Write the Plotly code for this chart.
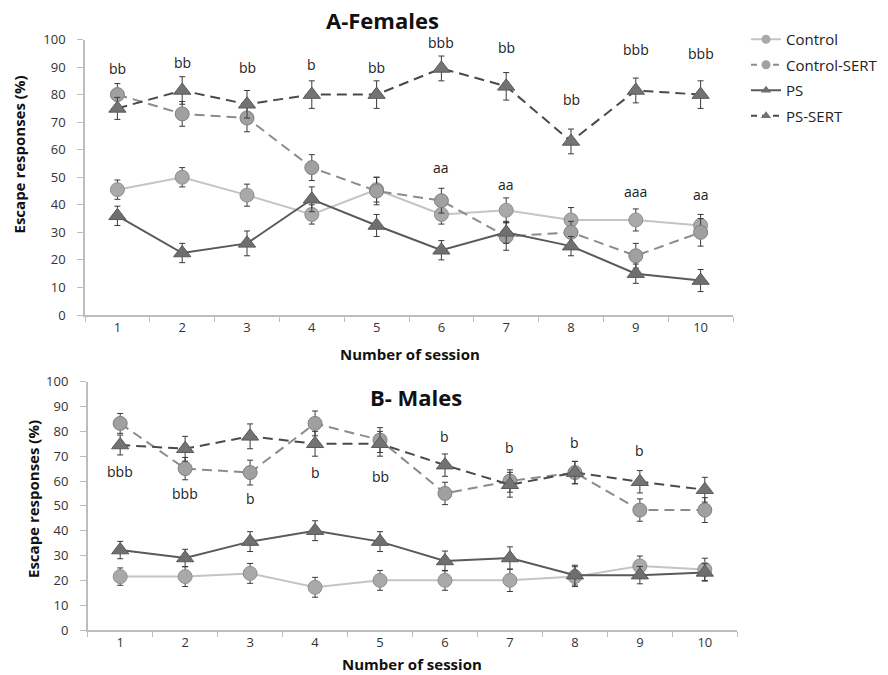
import plotly.graph_objects as go

sessions = ["1", "2", "3", "4", "5", "6", "7", "8", "9", "10"]

# A - Females
f_control = [45.5, 50, 43.5, 36.5, 45.5, 36.5, 38, 34.5, 34.5, 32.5]
f_control_err = [3.5, 3.5, 4, 3.5, 4.5, 3.5, 4.5, 4.5, 4, 4]
f_control_sert = [80, 73, 71.5, 53.5, 45, 41.5, 28.5, 30, 21.5, 30]
f_control_sert_err = [4, 4.5, 5, 4.7, 5, 4.5, 5, 4, 4.5, 5]
f_ps = [36, 22.5, 26, 42, 32.5, 23.5, 30, 25, 15, 12.5]
f_ps_err = [3.5, 3.5, 4.5, 4.5, 4, 3.5, 4, 3.5, 3.5, 4]
f_ps_sert = [75, 81.5, 76.5, 80, 80, 89.5, 83, 63, 81.5, 80]
f_ps_sert_err = [4, 5, 5, 5, 5, 4.5, 5, 4.5, 4.5, 5]

# B - Males
m_control = [21.5, 21.5, 22.8, 17.2, 20, 20, 20, 21.5, 25.8, 24.4]
m_control_err = [3.5, 4, 4, 4, 4, 4, 4.5, 4, 4, 4.5]
m_control_sert = [83.2, 65, 63.4, 83.2, 76.5, 55, 60, 63.4, 48.3, 48.3]
m_control_sert_err = [4, 4.5, 5, 5, 5, 4.5, 4.5, 4.5, 4.5, 5]
m_ps = [32.2, 29, 35.6, 40, 35.6, 27.8, 29, 22.1, 22.1, 23.2]
m_ps_err = [3.5, 3.5, 4, 4, 4, 4, 4.5, 4, 3.5, 3.5]
m_ps_sert = [74.5, 73, 78, 75, 75, 66.4, 58.5, 63.4, 59.7, 56.5]
m_ps_sert_err = [4, 5, 5, 5, 5, 4.5, 5, 4.5, 4.5, 5]

# significance labels (text, session, y)
f_b_labels = ["bb", "bb", "bb", "b", "bb", "bbb", "bb", "bb", "bbb", "bbb"]
f_b_y = [89.3, 91.8, 89.7, 91, 89.7, 99, 97, 78.4, 96.5, 95]
f_a_sessions = ["6", "7", "9", "10"]
f_a_labels = ["aa", "aa", "aaa", "aa"]
f_a_y = [53.7, 47.2, 45, 43.6]
m_b_labels = ["bbb", "bbb", "b", "b", "bb", "b", "b", "b", "b"]
m_b_sessions = ["1", "2", "3", "4", "5", "6", "7", "8", "9"]
m_b_y = [63.8, 55, 52.8, 63.5, 61.7, 78.1, 73.6, 75.6, 72.2]

FONT = "Open Sans, DejaVu Sans, sans-serif"

styles = {
    "Control": dict(line=dict(color="#c4c4c4", width=2),
                    marker=dict(symbol="circle", size=14, color="#a9a9a9", line=dict(color="#8f8f8f", width=1))),
    "Control-SERT": dict(line=dict(color="#8c8c8c", width=2, dash="10px,6px"),
                         marker=dict(symbol="circle", size=14, color="#a0a0a0", line=dict(color="#7f7f7f", width=1))),
    "PS": dict(line=dict(color="#5a5a5a", width=2),
               marker=dict(symbol="triangle-up", size=15, color="#6f6f6f", line=dict(color="#5a5a5a", width=1))),
    "PS-SERT": dict(line=dict(color="#4a4a4a", width=2, dash="10px,6px"),
                    marker=dict(symbol="triangle-up", size=15, color="#737373", line=dict(color="#5a5a5a", width=1))),
}
legend_dash = {"Control": "solid", "Control-SERT": "6px,5px", "PS": "solid", "PS-SERT": "6px,5px"}

fig = go.Figure()

def add_panel(series, xaxis, yaxis):
    for name, vals, errs in series:
        st = styles[name]
        fig.add_trace(go.Scatter(
            x=sessions, y=vals, name=name, mode="lines+markers",
            line=st["line"], marker=st["marker"],
            error_y=dict(type="data", array=errs, visible=True, color="#3a3a3a", thickness=1, width=3),
            xaxis=xaxis, yaxis=yaxis, showlegend=False, legendgroup=name,
        ))

add_panel([("Control", f_control, f_control_err),
           ("Control-SERT", f_control_sert, f_control_sert_err),
           ("PS", f_ps, f_ps_err),
           ("PS-SERT", f_ps_sert, f_ps_sert_err)], "x", "y")
add_panel([("Control", m_control, m_control_err),
           ("Control-SERT", m_control_sert, m_control_sert_err),
           ("PS", m_ps, m_ps_err),
           ("PS-SERT", m_ps_sert, m_ps_sert_err)], "x2", "y2")

# legend-only entries with smaller symbols
for name in ["Control", "Control-SERT", "PS", "PS-SERT"]:
    st = styles[name]
    fig.add_trace(go.Scatter(
        x=[None], y=[None], name=name, mode="lines+markers",
        line=dict(color=st["line"]["color"], width=2, dash=legend_dash[name]),
        marker=dict(symbol=st["marker"]["symbol"], size=9, color=st["marker"]["color"]),
        xaxis="x", yaxis="y", showlegend=True, legendgroup=name,
    ))

LBL = dict(family=FONT, size=14, color="#222222")
annotations = []
for s, t, yv in zip(sessions, f_b_labels, f_b_y):
    annotations.append(dict(x=sessions.index(s), y=yv, xref="x", yref="y", text=t, showarrow=False, font=LBL))
for s, t, yv in zip(f_a_sessions, f_a_labels, f_a_y):
    annotations.append(dict(x=sessions.index(s), y=yv, xref="x", yref="y", text=t, showarrow=False, font=LBL))
for s, t, yv in zip(m_b_sessions, m_b_labels, m_b_y):
    annotations.append(dict(x=sessions.index(s), y=yv, xref="x2", yref="y2", text=t, showarrow=False, font=LBL))

# titles
annotations += [
    dict(x=382/888, y=1-20/675, xref="paper", yref="paper", text="<b>A-Females</b>", showarrow=False,
         font=dict(family=FONT, size=22, color="#111111"), xanchor="center", yanchor="middle"),
    dict(x=416/888, y=1-397/675, xref="paper", yref="paper", text="<b>B- Males</b>", showarrow=False,
         font=dict(family=FONT, size=22, color="#111111"), xanchor="center", yanchor="middle"),
    dict(x=410/888, y=1-354/675, xref="paper", yref="paper", text="<b>Number of session</b>", showarrow=False,
         font=dict(family=FONT, size=15, color="#111111"), xanchor="center", yanchor="middle"),
    dict(x=412/888, y=1-664/675, xref="paper", yref="paper", text="<b>Number of session</b>", showarrow=False,
         font=dict(family=FONT, size=15, color="#111111"), xanchor="center", yanchor="middle"),
    dict(x=18.5/888, y=1-155/675, xref="paper", yref="paper", text="<b>Escape responses (%)</b>", showarrow=False,
         textangle=-90, font=dict(family=FONT, size=15, color="#111111"),
         xanchor="center", yanchor="middle"),
    dict(x=33/888, y=1-499/675, xref="paper", yref="paper", text="<b>Escape responses (%)</b>", showarrow=False,
         textangle=-90, font=dict(family=FONT, size=15, color="#111111"),
         xanchor="center", yanchor="middle"),
]

xaxis_common = dict(type="category", tickson="boundaries", ticks="outside", ticklen=5, tickcolor="#bdbdbd",
                    showline=True, linecolor="#bdbdbd", linewidth=1.5, showgrid=False, zeroline=False,
                    tickfont=dict(family=FONT, size=13, color="#333333"), range=[-0.5, 9.5],
                    categoryorder="array", categoryarray=sessions, automargin=False)
yaxis_common = dict(range=[0, 100], dtick=10, ticks="outside", ticklen=6, tickcolor="#bdbdbd",
                    showline=True, linecolor="#bdbdbd", linewidth=1.5, showgrid=False, zeroline=False,
                    tickfont=dict(family=FONT, size=13, color="#333333"), ticklabelstandoff=9,
                    automargin=False)

fig.update_layout(
    width=888, height=675,
    margin=dict(l=0, r=0, t=0, b=0, autoexpand=False),
    paper_bgcolor="white", plot_bgcolor="white",
    xaxis=dict(domain=[85/888, 733/888], anchor="y", **xaxis_common),
    yaxis=dict(domain=[1-315/675, 1-39.5/675], anchor="x", **yaxis_common),
    xaxis2=dict(domain=[87.7/888, 737.3/888], anchor="y2", **xaxis_common),
    yaxis2=dict(domain=[1-630/675, 1-381.7/675], anchor="x2", **yaxis_common),
    legend=dict(x=746/888, y=1-23/675, xanchor="left", yanchor="top",
                font=dict(family=FONT, size=15, color="#222222"),
                tracegroupgap=3, bgcolor="rgba(0,0,0,0)"),
    annotations=annotations,
    showlegend=True,
)

fig.write_html("out.html")
